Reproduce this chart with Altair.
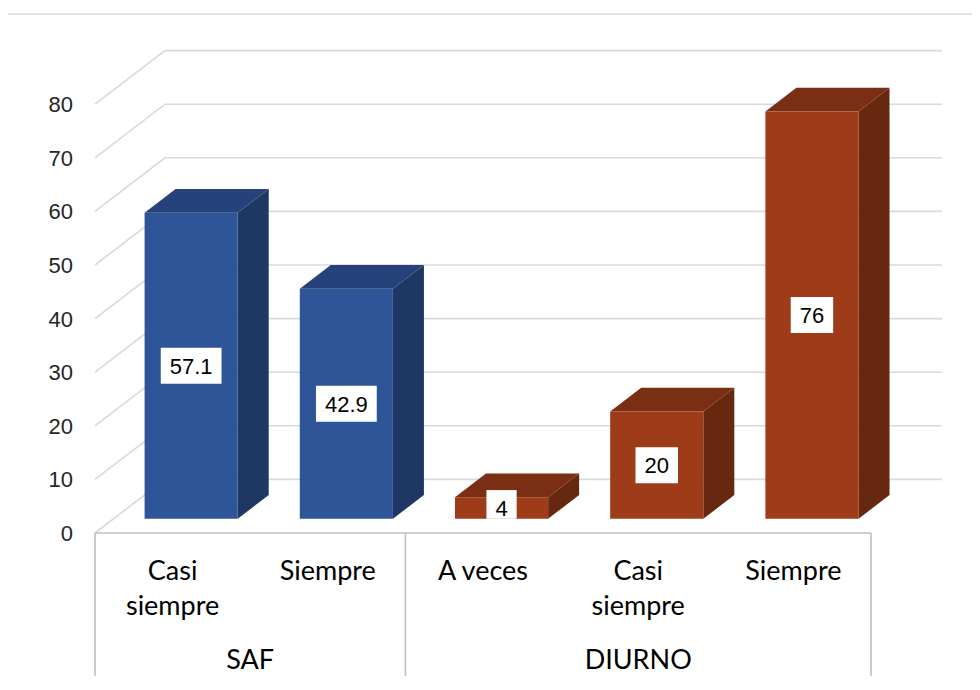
import altair as alt
import pandas as pd

# ---- data ----
groups = ["SAF", "SAF", "DIURNO", "DIURNO", "DIURNO"]
categories = ["Casi siempre", "Siempre", "A veces", "Casi siempre", "Siempre"]
category_lines = [["Casi", "siempre"], ["Siempre"], ["A veces"], ["Casi", "siempre"], ["Siempre"]]
values = [57.1, 42.9, 4, 20, 76]
value_labels = ["57.1", "42.9", "4", "20", "76"]
y_ticks = [0, 10, 20, 30, 40, 50, 60, 70, 80]

# ---- style / layout ----
front_col = {"SAF": "#2E5597", "DIURNO": "#9E3C1A"}
top_col = {"SAF": "#25437A", "DIURNO": "#7A2E13"}
side_col = {"SAF": "#1F3763", "DIURNO": "#672810"}

W, H = 964, 668
SLOT_PX = 155.2          # pixels per category slot
UNIT_PX = 5.36           # pixels per value unit
X0_PX, Y0_PX = 87, 525   # pixel position of (slot 0, value 0) on the front plane
xmin = -X0_PX / SLOT_PX
xmax = (W - X0_PX) / SLOT_PX
ymin = -(H - Y0_PX) / UNIT_PX
ymax = Y0_PX / UNIT_PX

DX = 70 / SLOT_PX        # depth shift in slot units (full depth)
DY = 53.6 / UNIT_PX      # depth shift in value units (full depth)
DF, DB = 0.265, 0.708    # bar front / back depth fraction
BAR_W = 0.6
GRID_END = 847 / SLOT_PX

xs = alt.Scale(domain=[xmin, xmax], nice=False, zero=False)
ys = alt.Scale(domain=[ymin, ymax], nice=False, zero=False)


def X(f="x"):
    return alt.X(f + ":Q", scale=xs, axis=None)


def Y(f="y"):
    return alt.Y(f + ":Q", scale=ys, axis=None)


# ---- gridlines (3D walls) ----
grid_rows = []
for t in y_ticks:
    grid_rows += [
        {"t": t, "o": 0, "x": 0.0, "y": t},
        {"t": t, "o": 1, "x": DX, "y": t + DY},
        {"t": t, "o": 2, "x": GRID_END, "y": t + DY},
    ]
grid = alt.Chart(pd.DataFrame(grid_rows)).mark_line(
    color="#D9D9D9", strokeWidth=1.6
).encode(x=X(), y=Y(), detail="t:N", order="o:Q")

# ---- bars ----
front_rows, side_rows, top_rows, box_rows = [], [], [], []
bdx, bdy = DX * (DB - DF), DY * (DB - DF)
for i, (g, v, lab) in enumerate(zip(groups, values, value_labels)):
    c = i + 0.5
    xl = c - BAR_W / 2 + DX * DF
    xr = c + BAR_W / 2 + DX * DF
    y0 = DY * DF
    y1 = v + DY * DF
    front_rows.append({"id": i, "x": xl, "x2": xr, "y": y0, "y2": y1, "col": front_col[g]})
    side_rows += [
        {"id": i, "x": xr, "y": y1, "y2": y0, "col": side_col[g]},
        {"id": i, "x": xr + bdx, "y": y1 + bdy, "y2": y0 + bdy, "col": side_col[g]},
    ]
    top_rows += [
        {"id": i, "y": y1, "x": xl, "x2": xr, "col": top_col[g]},
        {"id": i, "y": y1 + bdy, "x": xl + bdx, "x2": xr + bdx, "col": top_col[g]},
    ]
    cx = c + DX * DF
    cy = y0 + v / 2
    tw = sum(6.11 if ch == "." else 12.23 for ch in lab)
    hw = (tw / 2 + 9) / SLOT_PX
    hh = 18 / UNIT_PX
    box_rows.append({"x": cx - hw, "x2": cx + hw, "y": max(y0, cy - hh), "y2": cy + hh,
                     "cx": cx, "cy": cy, "lab": lab})

side = alt.Chart(pd.DataFrame(side_rows)).mark_area(orient="vertical").encode(
    x=X(), y=Y(), y2="y2:Q", detail="id:N", color=alt.Color("col:N", scale=None)
)
top = alt.Chart(pd.DataFrame(top_rows)).mark_area(orient="horizontal").encode(
    y=Y(), x=X(), x2="x2:Q", detail="id:N", color=alt.Color("col:N", scale=None)
)
front = alt.Chart(pd.DataFrame(front_rows)).mark_rect().encode(
    x=X(), x2="x2:Q", y=Y(), y2="y2:Q", color=alt.Color("col:N", scale=None)
)

boxes_df = pd.DataFrame(box_rows)
boxes = alt.Chart(boxes_df).mark_rect(color="white").encode(
    x=X(), x2="x2:Q", y=Y(), y2="y2:Q"
)
vlabels = alt.Chart(boxes_df).mark_text(
    font="Liberation Sans", fontSize=22, color="#000000", baseline="middle", dy=1
).encode(x=X("cx"), y=Y("cy"), text="lab:N")

# ---- y axis labels ----
ylab = alt.Chart(pd.DataFrame({"t": y_ticks})).mark_text(
    font="Liberation Sans", fontSize=22, color="#262626", align="right", baseline="middle", dy=1
).encode(x=alt.value(65), y=Y("t"), text="t:Q")

# ---- category table ----
group_order = []
for g in groups:
    if g not in group_order:
        group_order.append(g)
bounds = [0]
for g in group_order:
    bounds.append(bounds[-1] + groups.count(g))

table_top = alt.Chart(pd.DataFrame({"x": [0], "x2": [len(categories)], "y": [0]})).mark_rule(
    color="#BFBFBF", strokeWidth=1.6
).encode(x=X(), x2="x2:Q", y=Y())
table_v = alt.Chart(pd.DataFrame({"x": bounds, "y": [0] * len(bounds)})).mark_rule(
    color="#BFBFBF", strokeWidth=1.6
).encode(x=X(), y=Y(), y2=alt.value(H))

cat_df = pd.DataFrame({
    "x": [i + 0.5 for i in range(len(categories))],
    "lab": category_lines,
})
cat_text = alt.Chart(cat_df).mark_text(
    font="Lato", fontSize=27, color="#000000", baseline="alphabetic", lineHeight=35
).encode(x=X(), y=alt.value(572), text="lab")

grp_df = pd.DataFrame({
    "x": [(bounds[k] + bounds[k + 1]) / 2 for k in range(len(group_order))],
    "lab": group_order,
})
grp_text = alt.Chart(grp_df).mark_text(
    font="Lato", fontSize=27, color="#000000", baseline="alphabetic"
).encode(x=X(), y=alt.value(661), text="lab:N")

# ---- outer chart border ----
border = alt.Chart(pd.DataFrame({"a": [0]})).mark_rect(
    filled=False, stroke="#D9D9D9", strokeWidth=1.6
).encode(x=alt.value(-1), x2=alt.value(W + 40), y=alt.value(6), y2=alt.value(H + 40))

chart = alt.layer(
    border, grid, table_top, table_v, side, top, front, boxes, vlabels, ylab, cat_text, grp_text
).properties(
    width=W, height=H, padding=0,
    autosize=alt.AutoSizeParams(type="none"),
).configure_view(stroke=None)

chart.save("out.html", embed_options={"renderer": "svg", "actions": False})
